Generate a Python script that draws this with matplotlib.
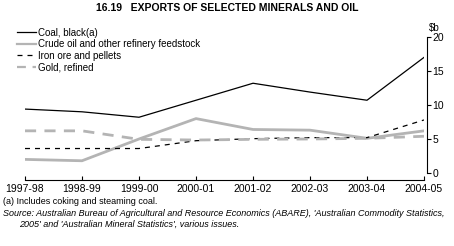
import matplotlib
matplotlib.use("Agg")
import matplotlib.pyplot as plt

years = ["1997-98", "1998-99", "1999-00", "2000-01", "2001-02", "2002-03", "2003-04", "2004-05"]
coal = [9.4, 9.0, 8.2, 10.7, 13.2, 11.9, 10.7, 17.0]
crude = [2.0, 1.8, 5.0, 8.0, 6.4, 6.3, 5.1, 6.2]
iron = [3.6, 3.6, 3.6, 4.75, 5.05, 5.2, 5.2, 7.8]
gold = [6.2, 6.2, 4.95, 4.85, 4.95, 5.0, 5.1, 5.4]
y_ticks = [0, 5, 10, 15, 20]

plt.rcParams["font.family"] = ["Liberation Sans Narrow", "Liberation Sans", "DejaVu Sans"]
plt.rcParams["font.size"] = 7

GREY = "#b4b4b4"

fig = plt.figure(figsize=(4.54, 2.46), dpi=100)
ax = fig.add_axes([25 / 454, 1 - 173 / 246, (424 - 25) / 454, 136 / 246])

x = list(range(len(years)))
ax.plot(x, coal, color="black", lw=0.9, label="Coal, black(a)")
ax.plot(x, crude, color=GREY, lw=2.0, label="Crude oil and other refinery feedstock")
ax.plot(x, iron, color="black", lw=0.9, ls=(0, (4, 4)), label="Iron ore and pellets")
ax.plot(x, gold, color=GREY, lw=2.0, ls=(0, (4, 3)), label="Gold, refined")

ax.set_xlim(0, len(years) - 1)
ax.set_ylim(0, 20)
ax.set_xticks(x)
ax.set_xticklabels(years)
ax.set_yticks(y_ticks)

ax.spines["top"].set_visible(False)
ax.spines["left"].set_visible(False)
ax.spines["right"].set_linewidth(0.8)
ax.spines["right"].set_position(("outward", 2))
ax.spines["bottom"].set_linewidth(0.8)
ax.spines["bottom"].set_position(("outward", 5))
ax.yaxis.tick_right()
ax.tick_params(axis="y", direction="out", length=3, width=0.8, pad=1, labelsize=7.5)
ax.tick_params(axis="x", direction="in", length=3, width=0.8, pad=3, labelsize=7.5)

ax.text(1.012, 1.03, "$b", transform=ax.transAxes, ha="left", va="bottom", fontsize=7)

leg = ax.legend(loc="upper left", bbox_to_anchor=(-13 / 399, 1.104), frameon=False,
                handlelength=2.0, handletextpad=0.2, labelspacing=0.15, borderpad=0,
                fontsize=7)
for h in leg.get_lines():
    h.set_linewidth(min(h.get_linewidth(), 1.6))

fig.text(0.5, 1 - 8 / 246, "16.19   EXPORTS OF SELECTED MINERALS AND OIL",
         ha="center", va="center", fontsize=7.5, fontweight="bold")
fig.text(3 / 454, 1 - 202 / 246, "(a) Includes coking and steaming coal.",
         ha="left", va="center", fontsize=6.5)
fig.text(3 / 454, 1 - 214 / 246,
         "Source: Australian Bureau of Agricultural and Resource Economics (ABARE), "
         "'Australian Commodity Statistics,",
         ha="left", va="center", fontsize=6.5, style="italic")
fig.text(19 / 454, 1 - 224 / 246,
         "2005' and 'Australian Mineral Statistics', various issues.",
         ha="left", va="center", fontsize=6.5, style="italic")

fig.savefig("out.png", dpi=100)
